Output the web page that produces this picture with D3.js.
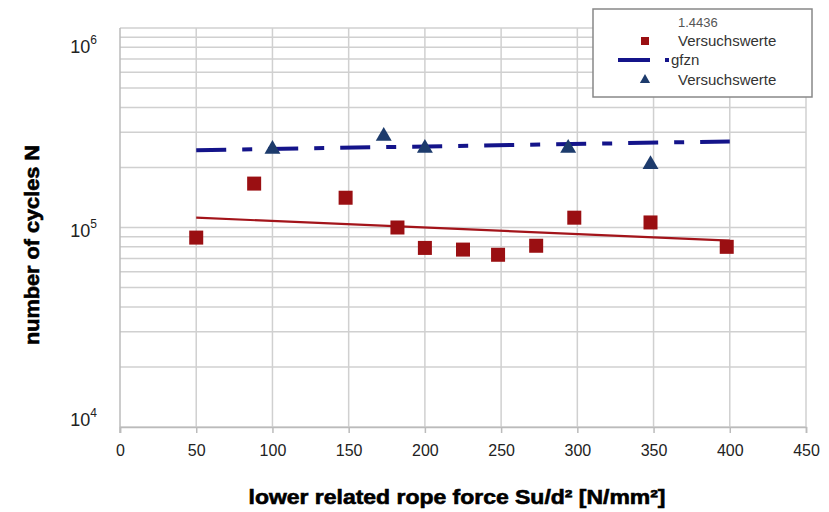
<!DOCTYPE html>
<html><head><meta charset="utf-8">
<script src="https://cdn.jsdelivr.net/npm/d3@7/dist/d3.min.js"></script>
<style>body{margin:0;background:#fff}svg{display:block}</style>
</head><body>
<svg id="c" width="829" height="512"></svg>
<script>
// Data
const redX = [50, 88, 148, 182, 200, 225, 248, 273, 298, 348, 398];
const redN = [89000, 166000, 141000, 100000, 79000, 77500, 73000, 81000, 112000, 106000, 80000];
const blueX = [100, 173, 200, 294, 348];
const blueN = [247000, 287000, 250000, 250000, 207000];
const redFitX = [50, 400];
const redFitN = [112000, 86000];
const blueFitX = [50, 400];
const blueFitN = [244000, 270000];
const xTicks = [0, 50, 100, 150, 200, 250, 300, 350, 400, 450];
const yTickExp = [4, 5, 6];
const legendLabels = ["1.4436", "Versuchswerte", "gfzn", "Versuchswerte"];

const svg = d3.select("#c");
const x = d3.scaleLinear().domain([0, 450]).range([120, 806]);
const y = d3.scaleLog().domain([1e4, 1e6]).range([427, 28]);
const lf = "Liberation Sans, Arial, sans-serif";

const gridColor = "#d0d0d0";
const minor = [];
for (let e = 4; e < 6; e++) for (let m = 1; m <= 9; m++) minor.push(m * Math.pow(10, e));
minor.push(1e6);
svg.append("g").selectAll("line").data(minor).join("line")
  .attr("x1", x(0)).attr("x2", x(450))
  .attr("y1", d => y(d)).attr("y2", d => y(d))
  .attr("stroke", gridColor).attr("stroke-width", 1.5);
svg.append("g").selectAll("line").data(xTicks.slice(1)).join("line")
  .attr("x1", d => x(d)).attr("x2", d => x(d))
  .attr("y1", y(1e6)).attr("y2", y(1e4))
  .attr("stroke", gridColor).attr("stroke-width", 1.5);

const xa = svg.append("g").attr("transform", `translate(0,${y(1e4)})`)
  .call(d3.axisBottom(x).tickValues(xTicks).tickSize(6).tickPadding(12).tickFormat(d3.format("d")));
xa.select(".domain").attr("stroke", "#bbb").attr("stroke-width", 1.5);
xa.selectAll(".tick line").attr("stroke", "#bbb").attr("stroke-width", 1.5);
xa.selectAll("text").attr("font-family", lf).attr("font-size", 16).attr("fill", "#222");

svg.append("line").attr("x1", x(0)).attr("x2", x(0)).attr("y1", y(1e6)).attr("y2", y(1e4) + 6)
  .attr("stroke", "#bbb").attr("stroke-width", 1.5);

const yOff = {4: -8, 5: 2, 6: 18};
const yl = svg.append("g").selectAll("text").data(yTickExp).join("text")
  .attr("x", 97).attr("y", d => y(Math.pow(10, d)) + yOff[d] + 7)
  .attr("text-anchor", "end")
  .attr("font-family", lf).attr("font-size", 18).attr("fill", "#222");
yl.append("tspan").text("10");
yl.append("tspan").attr("dy", -9).attr("font-size", 12).text(d => d);

svg.append("text").attr("x", 457).attr("y", 504).attr("text-anchor", "middle")
  .attr("font-family", lf).attr("font-weight", "bold")
  .attr("font-size", 20).attr("fill", "#000").attr("stroke", "#000").attr("stroke-width", 0.6)
  .attr("textLength", 417).attr("lengthAdjust", "spacingAndGlyphs")
  .text("lower related rope force Su/d² [N/mm²]");
svg.append("text").attr("transform", "translate(39,245) rotate(-90)").attr("text-anchor", "middle")
  .attr("font-family", lf).attr("font-weight", "bold")
  .attr("font-size", 20).attr("fill", "#000").attr("stroke", "#000").attr("stroke-width", 0.6)
  .attr("textLength", 200).attr("lengthAdjust", "spacingAndGlyphs")
  .text("number of cycles N");

const line = d3.line().x(d => x(d[0])).y(d => y(d[1]));
svg.append("path").datum(redFitX.map((v, i) => [v, redFitN[i]])).attr("d", line)
  .attr("fill", "none").attr("stroke", "#a3141a").attr("stroke-width", 2.2);
svg.append("path").datum(blueFitX.map((v, i) => [v, blueFitN[i]])).attr("d", line)
  .attr("fill", "none").attr("stroke", "#14148a").attr("stroke-width", 4)
  .attr("stroke-dasharray", "30,16,10,16");

const sq = 14;
svg.append("g").selectAll("rect").data(redX.map((v, i) => [v, redN[i]])).join("rect")
  .attr("x", d => x(d[0]) - sq / 2).attr("y", d => y(d[1]) - sq / 2)
  .attr("width", sq).attr("height", sq).attr("fill", "#9a0f12");
const tri = d3.symbol().type(d3.symbolTriangle).size(110);
svg.append("g").selectAll("path").data(blueX.map((v, i) => [v, blueN[i]])).join("path")
  .attr("transform", d => `translate(${x(d[0])},${y(d[1])})`).attr("d", tri)
  .attr("fill", "#1d3b6c");

const lg = svg.append("g");
lg.append("rect").attr("x", 593).attr("y", 9).attr("width", 219).attr("height", 88)
  .attr("fill", "#fff").attr("stroke", "#888").attr("stroke-width", 1.5);
const ly = [22, 41, 60, 80];
lg.selectAll("text").data(legendLabels).join("text")
  .attr("x", (d, i) => i === 2 ? 671 : 678).attr("y", (d, i) => ly[i] + 5)
  .attr("font-family", lf).attr("font-size", (d, i) => i === 0 ? 13 : 15)
  .attr("fill", (d, i) => i === 0 ? "#555" : "#333").text(d => d);
lg.append("rect").attr("x", 641).attr("y", ly[1] - 4).attr("width", 8).attr("height", 8).attr("fill", "#9a0f12");
lg.append("line").attr("x1", 618).attr("x2", 650).attr("y1", ly[2]).attr("y2", ly[2])
  .attr("stroke", "#14148a").attr("stroke-width", 4);
lg.append("rect").attr("x", 665).attr("y", ly[2] - 2).attr("width", 4).attr("height", 4).attr("fill", "#14148a");
lg.append("path").attr("transform", `translate(645,${ly[3]})`)
  .attr("d", d3.symbol().type(d3.symbolTriangle).size(45)).attr("fill", "#1d3b6c");
</script>
</body></html>
